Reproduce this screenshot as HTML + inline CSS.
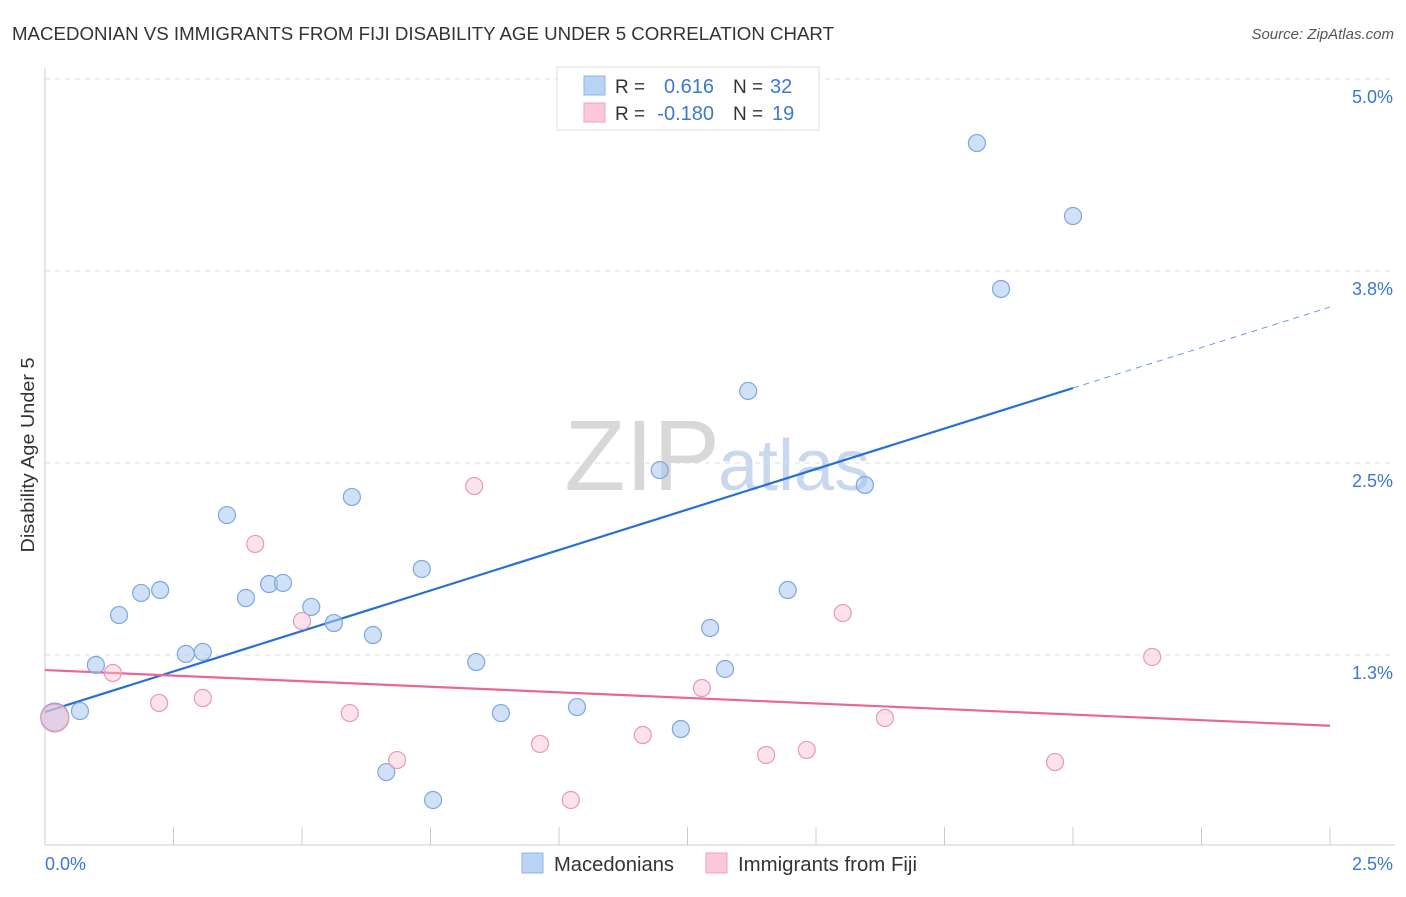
<!DOCTYPE html>
<html><head><meta charset="utf-8"><style>
body{margin:0;background:#fff;font-family:"Liberation Sans",sans-serif;}
svg text{font-family:"Liberation Sans",sans-serif;}
</style></head><body>
<svg id="c" width="1406" height="892" xmlns="http://www.w3.org/2000/svg">
<text x="12" y="40" font-size="18.5" fill="#333" textLength="822" lengthAdjust="spacingAndGlyphs">MACEDONIAN VS IMMIGRANTS FROM FIJI DISABILITY AGE UNDER 5 CORRELATION CHART</text>
<text x="1394" y="39" font-size="15" fill="#555" font-style="italic" text-anchor="end">Source: ZipAtlas.com</text>
<text x="34" y="455" font-size="18" fill="#333" text-anchor="middle" textLength="195" lengthAdjust="spacingAndGlyphs" transform="rotate(-90 34 455)">Disability Age Under 5</text>
<text x="720" y="490" font-size="100" fill="#d8d8d8" text-anchor="end" font-family="Liberation Serif">ZIP</text>
<text x="718" y="490" font-size="72" fill="#c8d8ee">atlas</text>
<g id="grid"></g><g id="axes"></g><g id="lines"></g><g id="pts"></g>
<g>
<rect x="557" y="67" width="262" height="63" fill="#fff" stroke="#ddd"/>
<rect x="584" y="76" width="21" height="19" fill="#b9d3f5" stroke="#8fb5e8"/>
<rect x="584" y="103" width="21" height="19" fill="#fac8d6" stroke="#eea3bb"/>
<text x="615" y="93" font-size="19" fill="#333">R =</text><text x="714" y="93" font-size="20" fill="#3a78d6" text-anchor="end">0.616</text>
<text x="733" y="93" font-size="19" fill="#333">N =</text><text x="770" y="93" font-size="20" fill="#3a78d6">32</text>
<text x="615" y="120" font-size="19" fill="#333">R =</text><text x="714" y="120" font-size="20" fill="#3a78d6" text-anchor="end">-0.180</text>
<text x="733" y="120" font-size="19" fill="#333">N =</text><text x="772" y="120" font-size="20" fill="#3a78d6">19</text>
</g>
<g>
<rect x="522" y="853" width="21" height="20" fill="#b9d3f5" stroke="#8fb5e8"/>
<text x="554" y="871" font-size="20" fill="#333" textLength="120" lengthAdjust="spacingAndGlyphs">Macedonians</text>
<rect x="706" y="853" width="21" height="20" fill="#fac8d6" stroke="#eea3bb"/>
<text x="738" y="871" font-size="20" fill="#333" textLength="179" lengthAdjust="spacingAndGlyphs">Immigrants from Fiji</text>
</g>
</svg>
<script>
const yTicks=[1.25,2.5,3.75,5.0];
const yTickLabels=["1.3%","2.5%","3.8%","5.0%"];
const xTickLabels=["0.0%","2.5%"];
const blueX=[0.019,0.068,0.099,0.144,0.187,0.224,0.274,0.307,0.354,0.391,0.436,0.463,0.518,0.562,0.597,0.638,0.664,0.733,0.755,0.839,0.887,1.035,1.196,1.237,1.294,1.323,1.368,1.445,1.595,1.813,1.860,2.000];
const blueY=[0.846,0.885,1.185,1.510,1.654,1.673,1.257,1.270,2.161,1.621,1.712,1.719,1.563,1.458,2.279,1.380,0.488,1.810,0.306,1.204,0.872,0.911,2.454,0.768,1.426,1.159,2.969,1.673,2.357,4.583,3.633,4.108];
const pinkX=[0.019,0.132,0.222,0.307,0.409,0.500,0.593,0.685,0.835,0.963,1.023,1.163,1.278,1.403,1.482,1.552,1.634,1.965,2.154];
const pinkY=[0.840,1.133,0.938,0.970,1.973,1.471,0.872,0.566,2.350,0.671,0.306,0.729,1.035,0.599,0.632,1.523,0.840,0.553,1.237];
const blueTrend=[0.879,1.0545];
const pinkTrend=[1.152,-0.145];
const NS="http://www.w3.org/2000/svg";
const X=v=>45+v/2.5*1285, Y=v=>847-v*153.6;
function mk(t,a,p){const e=document.createElementNS(NS,t);for(const k in a)e.setAttribute(k,a[k]);document.getElementById(p).appendChild(e);return e;}
yTicks.forEach((t,i)=>{
 const l=mk('line',{x1:45,x2:1395,y1:Y(t),y2:Y(t),stroke:'#ddd','stroke-dasharray':'5,5'},'grid');
 
 
 const tx=mk('text',{x:1393,y:Y(t)+24,'font-size':18,fill:'#3a78d6','text-anchor':'end'},'grid');tx.textContent=yTickLabels[i];
 
 
});
mk('line',{x1:45,x2:45,y1:68,y2:845,stroke:'#ccc'},'axes');
mk('line',{x1:45,x2:1395,y1:845,y2:845,stroke:'#ccc'},'axes');
for(let k=1;k<=10;k++){const x=45+k*128.5;mk('line',{x1:x,x2:x,y1:827,y2:845,stroke:'#ccc'},'axes');}
let a=mk('text',{x:45,y:870,'font-size':18,fill:'#3a78d6'},'axes');a.textContent=xTickLabels[0];


a=mk('text',{x:1393,y:870,'font-size':18,fill:'#3a78d6','text-anchor':'end'},'axes');a.textContent=xTickLabels[1];


const bt=v=>blueTrend[0]+blueTrend[1]*v, pt=v=>pinkTrend[0]+pinkTrend[1]*v;
let ln=mk('line',{x1:X(0),y1:Y(bt(0)),x2:X(2),y2:Y(bt(2)),stroke:'#2a6fd6','stroke-width':2.2},'lines');


ln=mk('line',{x1:X(2),y1:Y(bt(2)),x2:X(2.5),y2:Y(bt(2.5)),stroke:'#6b9be0','stroke-width':1,'stroke-dasharray':'6,5'},'lines');


ln=mk('line',{x1:X(0),y1:Y(pt(0)),x2:X(2.5),y2:Y(pt(2.5)),stroke:'#e8679a','stroke-width':2.2},'lines');


blueX.forEach((x,i)=>{
 const c=mk('circle',{cx:X(x),cy:Y(blueY[i]),r:i==0?14:8.5,fill:'rgba(170,200,240,0.55)',stroke:'#7aa8e0','stroke-width':1.2},'pts');
 
 
});
pinkX.forEach((x,i)=>{
 const c=mk('circle',{cx:X(x),cy:Y(pinkY[i]),r:i==0?14:8.5,fill:'rgba(248,190,208,0.45)',stroke:'#e89ab0','stroke-width':1.2},'pts');
 
 
});
</script>
</body></html>
